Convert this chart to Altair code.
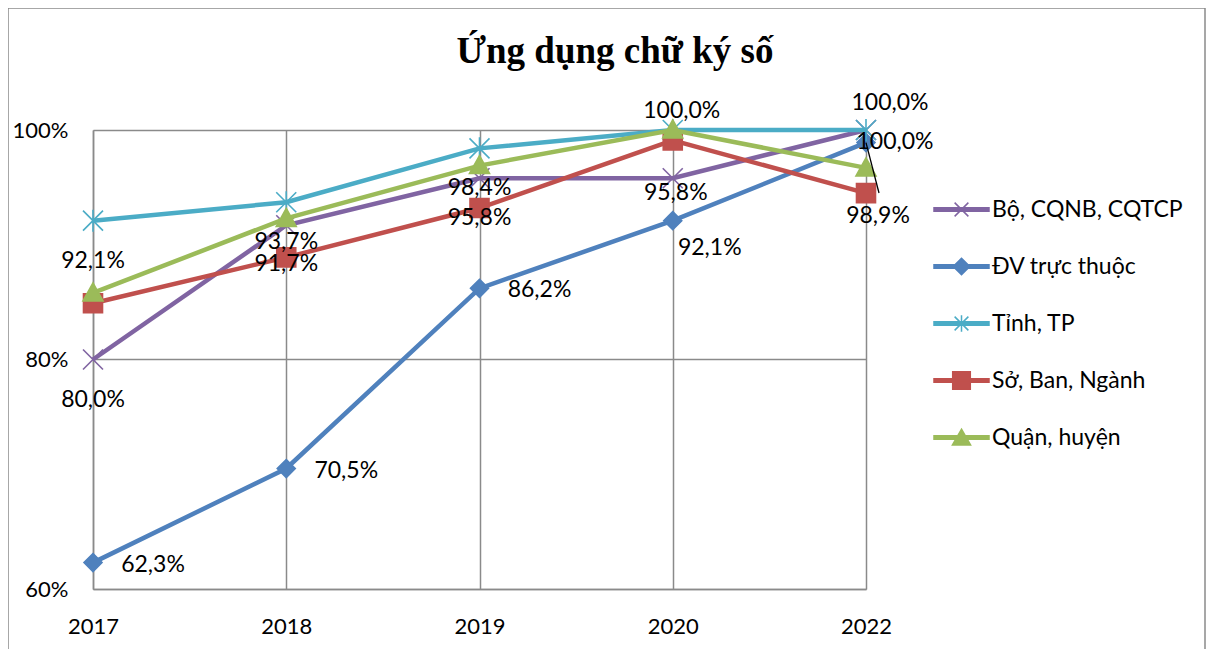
import altair as alt
import pandas as pd

# ---- data ----
years = ["2017", "2018", "2019", "2020", "2022"]
series = ["Bộ, CQNB, CQTCP", "ĐV trực thuộc", "Tỉnh, TP", "Sở, Ban, Ngành", "Quận, huyện"]
bo = [80.0, 91.7, 95.8, 95.8, 100.0]
dv = [62.3, 70.5, 86.2, 92.1, 98.9]
tinh = [92.1, 93.7, 98.4, 100.0, 100.0]
so = [84.9, 88.9, 93.2, 99.1, 94.5]
quan = [85.8, 92.3, 96.9, 100.0, 96.7]
values = [bo, dv, tinh, so, quan]
y_ticks = [0.6, 0.8, 1.0]
title_text = "Ứng dụng chữ ký số"

# ---- styling ----
colors = ["#8064A2", "#4F81BD", "#4BACC6", "#C0504D", "#9BBB59"]
filled = [False, True, False, True, True]
marker_paths = [
    "M-1,-1L1,1M-1,1L1,-1",
    "M0,-0.9L0.9,0L0,0.9L-0.9,0Z",
    "M-1,-1L1,1M-1,1L1,-1M0,-1.1L0,1.1",
    "M-0.95,-0.95L0.95,-0.95L0.95,0.95L-0.95,0.95Z",
    "M0,-1L1,0.8L-1,0.8Z",
]
leg_line = "M-1,-0.06L1,-0.06L1,0.06L-1,0.06Z"
legend_paths = [
    leg_line + "M-0.25,-0.25L0.25,0.25M-0.25,0.25L0.25,-0.25",
    leg_line + "M0,-0.3L0.3,0L0,0.3L-0.3,0Z",
    leg_line + "M-0.25,-0.25L0.25,0.25M-0.25,0.25L0.25,-0.25M0,-0.3L0,0.3",
    leg_line + "M-0.32,-0.32L0.32,-0.32L0.32,0.32L-0.32,0.32Z",
    leg_line + "M0,-0.3L0.33,0.27L-0.33,0.27Z",
]
FONT = "Lato"
FS = 22
LFS = 23
GRID = "#8a8a8a"

rows = []
for s, vals in zip(series, values):
    for yr, v in zip(years, vals):
        rows.append({"year": yr, "series": s, "value": v / 100.0,
                     "label": f"{v:.1f}%".replace(".", ",")})
df = pd.DataFrame(rows)

W, H = 773, 459

x_enc = alt.X("year:O", sort=years,
              scale=alt.Scale(type="point", padding=0, domain=years),
              axis=alt.Axis(title=None, labelAngle=0, ticks=False, labelPadding=27,
                            grid=True, domain=True, labelFont=FONT, labelFontSize=FS,
                            labelColor="black"))
y_enc = alt.Y("value:Q",
              scale=alt.Scale(domain=[0.6, 1.0], nice=False, zero=False),
              axis=alt.Axis(title=None, values=y_ticks, format=".0%", ticks=False,
                            labelPadding=25, grid=True, domain=True, labelFont=FONT,
                            labelFontSize=FS, labelColor="black"))

base = alt.Chart(df)

layers = []

# frame around the whole chart area
frame = alt.Chart(pd.DataFrame({"k": [0]})).mark_rect(
    fill="transparent", stroke=GRID, strokeWidth=1.5
).encode(x=alt.value(-85), x2=alt.value(1112), y=alt.value(-122), y2=alt.value(700))
layers.append(frame)

# chart title
title = alt.Chart(pd.DataFrame({"t": [title_text]})).mark_text(
    font="Liberation Serif", fontSize=37, fontWeight="bold", color="black",
    align="center", baseline="alphabetic"
).encode(text="t:N", x=alt.value(522), y=alt.value(-67))
layers.append(title)

for s, c, f, p in zip(series, colors, filled, marker_paths):
    sub = base.transform_filter(alt.FieldEqualPredicate(field="series", equal=s))
    layers.append(sub.mark_line(color=c, strokeWidth=4.5).encode(x=x_enc, y=y_enc))
    layers.append(sub.mark_point(shape=p, size=400, opacity=1,
                                 fill=c if f else "transparent", stroke=c,
                                 strokeWidth=1.6).encode(x=x_enc, y=y_enc))

# legend-only layer (no marks drawn)
legend_layer = base.transform_filter("false").mark_point(opacity=1).encode(
    x=x_enc, y=y_enc,
    fill=alt.Fill("series:N", scale=alt.Scale(domain=series, range=colors),
                  legend=alt.Legend(title=None)),
    stroke=alt.Stroke("series:N", scale=alt.Scale(domain=series, range=colors),
                      legend=alt.Legend(title=None)),
    shape=alt.Shape("series:N", scale=alt.Scale(domain=series, range=legend_paths),
                    legend=alt.Legend(title=None, orient="none", legendX=840, legendY=51,
                                      symbolSize=3025, symbolStrokeWidth=1.5,
                                      labelFont=FONT, labelFontSize=LFS, labelColor="black",
                                      labelOffset=2, labelLimit=400, rowPadding=16,
                                      padding=0, symbolOpacity=1)),
)
layers.append(legend_layer)


def labels(s, yrs, dx, dy):
    return base.transform_filter(
        alt.FieldEqualPredicate(field="series", equal=s)
    ).transform_filter(
        alt.FieldOneOfPredicate(field="year", oneOf=yrs)
    ).mark_text(dx=dx, dy=dy, font=FONT, fontSize=LFS, color="black",
                align="center", baseline="middle").encode(x=x_enc, y=y_enc, text="label:N")


layers += [
    labels("Tỉnh, TP", ["2017", "2018", "2019"], 0, 40),
    labels("Tỉnh, TP", ["2020"], 9, -19),
    labels("Tỉnh, TP", ["2022"], 24, -27),
    labels("Bộ, CQNB, CQTCP", ["2017", "2019"], 0, 40),
    labels("Bộ, CQNB, CQTCP", ["2018"], 0, 39),
    labels("Bộ, CQNB, CQTCP", ["2020"], 3, 15),
    labels("Bộ, CQNB, CQTCP", ["2022"], 29, 12),
    labels("ĐV trực thuộc", ["2017", "2018", "2019"], 60, 2),
    labels("ĐV trực thuộc", ["2020"], 37, 27),
    labels("ĐV trực thuộc", ["2022"], 12, 73),
]

# leader line for the 98,9% label
leader = base.transform_filter(
    alt.FieldEqualPredicate(field="series", equal="ĐV trực thuộc")
).transform_filter(
    alt.FieldEqualPredicate(field="year", equal="2022")
).mark_rule(color="black", strokeWidth=1.3).encode(
    x=x_enc, y=y_enc, x2=alt.value(786), y2=alt.value(63))
layers.append(leader)

chart = alt.layer(*layers).properties(
    width=W, height=H,
    background="white",
    autosize=alt.AutoSizeParams(type="none"),
    padding={"left": 85, "top": 122, "right": 340, "bottom": 60},
).configure_view(stroke=None).configure_axis(
    gridColor=GRID, gridWidth=1.5, domainColor=GRID, domainWidth=1.5,
)

chart.save("out.html", embed_options={"renderer": "svg", "actions": False})
